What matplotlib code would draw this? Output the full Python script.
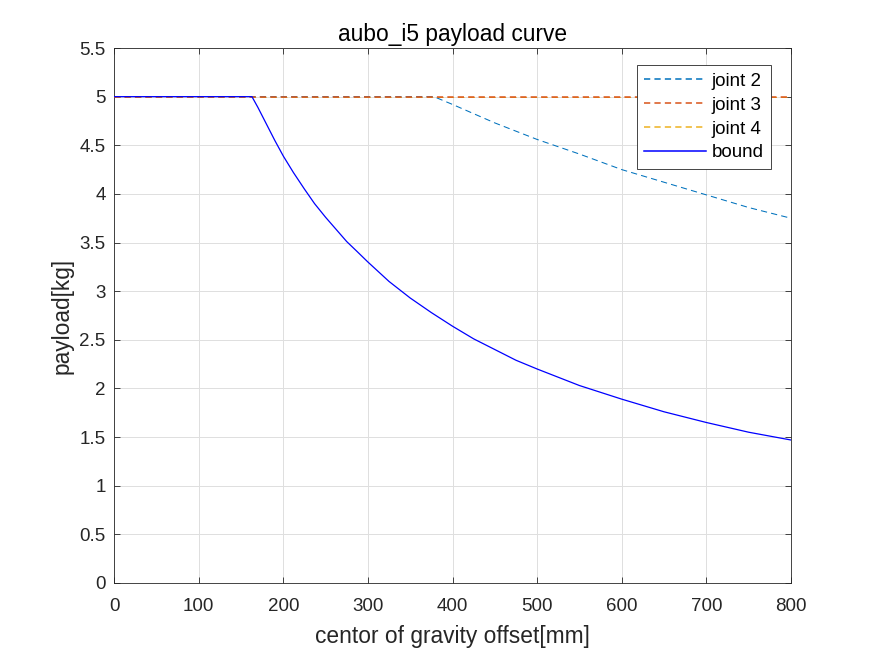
import matplotlib
matplotlib.use("Agg")
import matplotlib.pyplot as plt

plt.rcParams['font.family'] = ['Liberation Sans', 'DejaVu Sans']
plt.rcParams['lines.scale_dashes'] = False

# data
bound_x = [0, 163, 170, 180, 190, 200, 212, 225, 237, 250, 262, 275, 287, 300, 325, 350, 375, 400,
           425, 450, 475, 500, 550, 600, 650, 700, 750, 800]
bound_y = [5, 5, 4.89, 4.72, 4.55, 4.39, 4.22, 4.05, 3.90, 3.76, 3.64, 3.51, 3.41, 3.30, 3.10, 2.93,
           2.78, 2.64, 2.51, 2.40, 2.29, 2.20, 2.03, 1.89, 1.76, 1.65, 1.55, 1.47]

joint2_x = [0, 378, 400, 450, 500, 550, 600, 650, 700, 750, 800]
joint2_y = [5, 5, 4.92, 4.73, 4.56, 4.41, 4.25, 4.12, 3.99, 3.86, 3.75]

joint3_x = [0, 800]
joint3_y = [5, 5]

joint4_x = [0, 800]
joint4_y = [5, 5]

xticks = [0, 100, 200, 300, 400, 500, 600, 700, 800]
yticks = [0, 0.5, 1, 1.5, 2, 2.5, 3, 3.5, 4, 4.5, 5, 5.5]

fig = plt.figure(figsize=(8.75, 6.56), dpi=100)
ax = fig.add_axes([0.1303, 0.1113, 0.7737, 0.8155])

dash = (4.5, 3)
l2, = ax.plot(joint2_x, joint2_y, color='#0072BD', lw=0.75, dashes=dash, label='joint 2', zorder=2)
l3, = ax.plot(joint3_x, joint3_y, color='#D95319', lw=1.1, dashes=dash, label='joint 3', zorder=4)
l4, = ax.plot(joint4_x, joint4_y, color='#EDB120', lw=0.7, dashes=dash, label='joint 4', zorder=1.5)
lb, = ax.plot(bound_x, bound_y, color='#0000FF', lw=0.9, label='bound', zorder=5)

ax.set_xlim(0, 800)
ax.set_ylim(0, 5.5)
ax.set_xticks(xticks)
ax.set_yticks(yticks)
ax.set_xticklabels([str(v) for v in xticks])
ax.set_yticklabels([('%g' % v) for v in yticks])
ax.grid(True, color='#dfdfdf', lw=0.7)
ax.set_axisbelow(True)
ax.tick_params(direction='in', length=4, width=0.6, colors='#262626', labelsize=13.5,
               top=True, right=True)
ax.tick_params(axis='x', pad=11)
ax.tick_params(axis='y', pad=6)
for s in ax.spines.values():
    s.set_color('#262626')
    s.set_linewidth(0.6)

ax.set_xlabel('centor of gravity offset[mm]', fontsize=16.4, color='#262626', labelpad=7)
ax.set_ylabel('payload[kg]', fontsize=16.4, color='#262626', labelpad=4.5)
ax.set_title('aubo_i5 payload curve', fontsize=16.4, color='#000000', pad=5)

leg = ax.legend(handles=[l2, l3, l4, lb], loc='upper right', bbox_to_anchor=(0.9705, 0.968),
                fontsize=13.5, frameon=True, fancybox=False, framealpha=1,
                edgecolor='#262626', handlelength=3.3, borderpad=0.4, labelspacing=0.36,
                handletextpad=0.3, borderaxespad=0)
leg.get_frame().set_linewidth(0.6)
for h in leg.get_lines():
    h.set_linewidth(1.1)

fig.savefig('out.png', dpi=100)
